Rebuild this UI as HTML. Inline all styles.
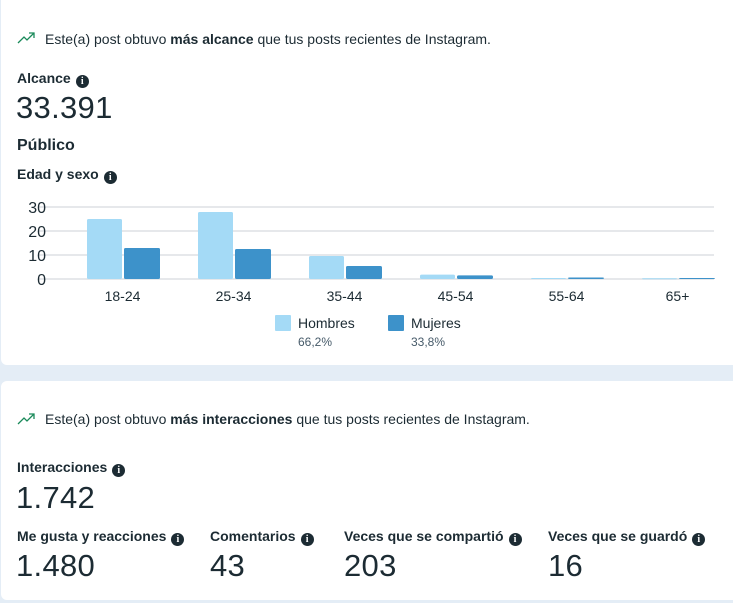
<!DOCTYPE html>
<html><head><meta charset="utf-8"><style>
*{margin:0;padding:0;box-sizing:border-box}
body{width:733px;height:603px;background:#e4edf6;font-family:"Liberation Sans",sans-serif;color:#1c2b33;position:relative;overflow:hidden}
.card{position:absolute;left:1px;width:740px;background:#fff;border-radius:6px}
.a{position:absolute;white-space:nowrap}
.t{font-size:14px}
.lbl{font-size:14px;font-weight:bold}
.big{font-size:31px;font-weight:normal;letter-spacing:0.3px}
.info{display:inline-block;width:13px;height:13px;border-radius:50%;background:#1c2b33;color:#fff;font-size:10px;font-weight:bold;text-align:center;line-height:13px;vertical-align:-1px;margin-left:5px;font-family:"Liberation Serif",serif}
</style></head><body>
<div class="card" style="top:-6px;height:371px"></div>
<div class="card" style="top:381px;height:219px"></div>

<svg class="a" style="left:17px;top:31px" width="20" height="14"><polyline points="1,12 7,6 10,9 17,2" fill="none" stroke="#1a8a5a" stroke-width="1.3"/><polyline points="12,2 17,2 17,7" fill="none" stroke="#1a8a5a" stroke-width="1.3"/></svg>
<div class="a t" style="left:45px;top:31px">Este(a) post obtuvo <b>más alcance</b> que tus posts recientes de Instagram.</div>
<div class="a lbl" style="left:17px;top:70px">Alcance<span class="info">i</span></div>
<div class="a big" style="left:16px;top:90px">33.391</div>
<div class="a" style="left:17px;top:137px;font-size:16px;font-weight:bold">Público</div>
<div class="a lbl" style="left:17px;top:166px">Edad y sexo<span class="info">i</span></div>

<svg id="chart" class="a" style="left:0;top:190px" width="733" height="170"></svg>

<svg class="a" style="left:17px;top:412px" width="20" height="14"><polyline points="1,12 7,6 10,9 17,2" fill="none" stroke="#1a8a5a" stroke-width="1.3"/><polyline points="12,2 17,2 17,7" fill="none" stroke="#1a8a5a" stroke-width="1.3"/></svg>
<div class="a t" style="left:45px;top:411px">Este(a) post obtuvo <b>más interacciones</b> que tus posts recientes de Instagram.</div>
<div class="a lbl" style="left:17px;top:459px">Interacciones<span class="info">i</span></div>
<div class="a big" style="left:16px;top:480px">1.742</div>
<div class="a lbl" style="left:17px;top:528px">Me gusta y reacciones<span class="info">i</span></div>
<div class="a big" style="left:16px;top:548px">1.480</div>
<div class="a lbl" style="left:210px;top:528px">Comentarios<span class="info">i</span></div>
<div class="a big" style="left:210px;top:548px">43</div>
<div class="a lbl" style="left:344px;top:528px">Veces que se compartió<span class="info">i</span></div>
<div class="a big" style="left:344px;top:548px">203</div>
<div class="a lbl" style="left:548px;top:528px">Veces que se guardó<span class="info">i</span></div>
<div class="a big" style="left:548px;top:548px">16</div>

<script>
const categories=["18-24","25-34","35-44","45-54","55-64","65+"];
const hombres=[25,27.9,9.6,1.8,0.4,0.3];
const mujeres=[12.9,12.5,5.4,1.5,0.6,0.4];
const yTicks=[0,10,20,30];
const legendNames=["Hombres","Mujeres"];
const legendPcts=["66,2%","33,8%"];
(function(){
const svg=document.getElementById('chart');const NS='http://www.w3.org/2000/svg';
const y0=89,k=2.4;const y=v=>y0-v*k;
const bandStart=67,band=111;const cx=i=>bandStart+band*(i+0.5);
function mk(t,a){const e=document.createElementNS(NS,t);for(const n in a)e.setAttribute(n,a[n]);svg.appendChild(e);return e;}
yTicks.forEach(t=>{
const l=mk('line',{x1:38,x2:714,y1:y(t),y2:y(t),stroke:'#e6e8eb','stroke-width':2});


const tx=mk('text',{x:46,y:y(t)+6,'text-anchor':'end','font-size':16,fill:'#1c2b33','font-family':'Liberation Sans'});
tx.textContent=t;


});
categories.forEach((c,i)=>{
const h=hombres[i],m=mujeres[i];
const b1=mk('rect',{x:cx(i)-35.5,y:y(h),width:35,height:Math.max(h*k,1),fill:'#a4daf6',rx:1.5});


const b2=mk('rect',{x:cx(i)+1.5,y:y(m),width:36,height:Math.max(m*k,1),fill:'#3d92ca',rx:1.5});


const tx=mk('text',{x:cx(i),y:111,'text-anchor':'middle','font-size':14,fill:'#1c2b33','font-family':'Liberation Sans'});
tx.textContent=c;


});
const lx=[275,388],cols=['#a4daf6','#3d92ca'];
legendNames.forEach((n,i)=>{
const r=mk('rect',{x:lx[i],y:125,width:16,height:16,fill:cols[i],rx:1});


const t=mk('text',{x:lx[i]+23,y:138,'font-size':14,fill:'#1c2b33','font-family':'Liberation Sans'});
t.textContent=n;


const p=mk('text',{x:lx[i]+23,y:156,'font-size':12,fill:'#465a69','font-family':'Liberation Sans'});
p.textContent=legendPcts[i];


});
})();
</script>
</body></html>
